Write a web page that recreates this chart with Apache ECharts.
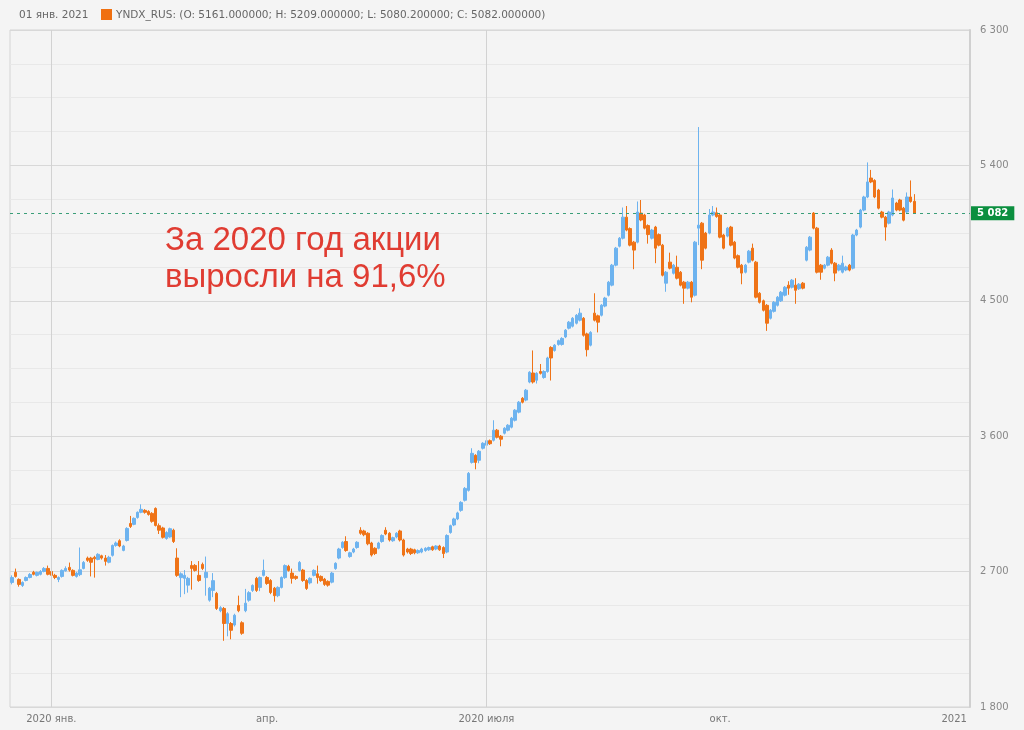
<!DOCTYPE html>
<html>
<head>
<meta charset="utf-8">
<title>YNDX_RUS 2020</title>
<script src="https://cdn.jsdelivr.net/npm/echarts@6/dist/echarts.min.js"></script>
<style>
  html, body { margin: 0; padding: 0; background: #f4f4f4; }
  #chart { width: 1024px; height: 730px; }
</style>
</head>
<body>
<div id="chart"></div>
<script>
// daily candles, [open, close, low, high], one per trading day
const candles = [
  [2628, 2661, 2615, 2675], [2695, 2668, 2660, 2720], [2648, 2615, 2600, 2655], [2608, 2628, 2598, 2635],
  [2641, 2661, 2635, 2668], [2661, 2681, 2655, 2690], [2695, 2682, 2675, 2705], [2675, 2695, 2668, 2700],
  [2682, 2701, 2675, 2710], [2701, 2721, 2695, 2730], [2721, 2682, 2675, 2740], [2701, 2675, 2665, 2710],
  [2675, 2661, 2650, 2685], [2648, 2661, 2630, 2668], [2668, 2708, 2660, 2715], [2705, 2721, 2700, 2735],
  [2728, 2710, 2700, 2760], [2708, 2675, 2668, 2715], [2668, 2690, 2660, 2698], [2680, 2712, 2670, 2860],
  [2721, 2761, 2715, 2770], [2790, 2775, 2765, 2800], [2790, 2762, 2668, 2798], [2795, 2785, 2660, 2805],
  [2781, 2815, 2775, 2822], [2805, 2790, 2780, 2812], [2790, 2768, 2740, 2810], [2762, 2795, 2755, 2805],
  [2808, 2874, 2800, 2880], [2874, 2890, 2865, 2900], [2905, 2870, 2862, 2915], [2841, 2870, 2835, 2878],
  [2907, 2987, 2900, 2995], [3020, 3000, 2990, 3070], [3014, 3054, 3008, 3060], [3060, 3094, 3052, 3100],
  [3094, 3114, 3088, 3147], [3107, 3094, 3085, 3115], [3100, 3080, 3072, 3108], [3087, 3034, 3025, 3095],
  [3120, 3007, 3000, 3127], [3005, 2975, 2950, 3020], [2990, 2928, 2920, 2998], [2920, 2960, 2912, 2968],
  [2930, 2985, 2925, 2992], [2975, 2900, 2890, 2985], [2790, 2675, 2665, 2855], [2660, 2685, 2530, 2695],
  [2655, 2675, 2550, 2710], [2610, 2655, 2560, 2665], [2741, 2721, 2580, 2770], [2741, 2708, 2700, 2750],
  [2675, 2641, 2632, 2770], [2748, 2721, 2710, 2760], [2660, 2695, 2540, 2800], [2510, 2590, 2500, 2598],
  [2575, 2640, 2530, 2690], [2555, 2455, 2445, 2565], [2440, 2460, 2430, 2470], [2455, 2355, 2240, 2465],
  [2355, 2420, 2270, 2430], [2355, 2310, 2250, 2365], [2345, 2410, 2335, 2420], [2475, 2440, 2430, 2540],
  [2360, 2290, 2280, 2370], [2440, 2490, 2430, 2585], [2510, 2560, 2500, 2570], [2575, 2608, 2565, 2615],
  [2655, 2575, 2565, 2665], [2595, 2661, 2570, 2668], [2675, 2708, 2668, 2780], [2661, 2621, 2612, 2670],
  [2641, 2561, 2550, 2650], [2590, 2540, 2500, 2598], [2540, 2595, 2530, 2602], [2595, 2661, 2588, 2668],
  [2660, 2740, 2652, 2748], [2735, 2708, 2700, 2745], [2690, 2655, 2620, 2720], [2668, 2655, 2645, 2675],
  [2708, 2761, 2700, 2770], [2710, 2641, 2632, 2718], [2641, 2588, 2578, 2650], [2625, 2655, 2615, 2662],
  [2675, 2708, 2668, 2715], [2685, 2660, 2620, 2740], [2668, 2640, 2632, 2675], [2650, 2615, 2605, 2658],
  [2635, 2610, 2600, 2642], [2630, 2690, 2622, 2698], [2720, 2755, 2712, 2762], [2790, 2850, 2782, 2858],
  [2860, 2895, 2852, 2902], [2900, 2840, 2832, 2935], [2800, 2825, 2792, 2832], [2830, 2850, 2822, 2858],
  [2860, 2895, 2852, 2902], [2975, 2955, 2945, 2995], [2970, 2945, 2935, 2978], [2955, 2885, 2875, 2962],
  [2890, 2810, 2800, 2898], [2855, 2820, 2810, 2862], [2855, 2890, 2848, 2898], [2900, 2940, 2892, 2948],
  [2975, 2950, 2942, 2995], [2955, 2910, 2900, 2962], [2905, 2925, 2898, 2932], [2930, 2955, 2922, 2962],
  [2970, 2910, 2900, 2978], [2910, 2810, 2800, 2918], [2850, 2830, 2820, 2858], [2850, 2820, 2810, 2858],
  [2845, 2825, 2815, 2852], [2825, 2840, 2818, 2848], [2830, 2850, 2822, 2858], [2840, 2855, 2832, 2862],
  [2845, 2860, 2838, 2866], [2865, 2845, 2838, 2872], [2850, 2870, 2842, 2876], [2870, 2845, 2838, 2878],
  [2860, 2820, 2790, 2868], [2830, 2940, 2822, 2948], [2960, 3005, 2952, 3012], [3010, 3050, 3002, 3058],
  [3050, 3090, 3042, 3098], [3107, 3160, 3098, 3168], [3174, 3253, 3166, 3262], [3240, 3353, 3232, 3362],
  [3426, 3486, 3418, 3520], [3473, 3426, 3380, 3480], [3440, 3500, 3420, 3508], [3520, 3553, 3512, 3560],
  [3540, 3570, 3532, 3578], [3570, 3550, 3542, 3578], [3573, 3640, 3565, 3706], [3640, 3593, 3585, 3648],
  [3600, 3580, 3533, 3608], [3620, 3653, 3612, 3660], [3640, 3673, 3632, 3680], [3660, 3720, 3652, 3728],
  [3706, 3773, 3698, 3780], [3760, 3826, 3752, 3834], [3852, 3826, 3818, 3860], [3840, 3906, 3832, 3914],
  [3960, 4025, 3952, 4032], [4020, 3960, 3950, 4170], [3972, 4018, 3950, 4025], [4030, 4018, 4010, 4080],
  [3990, 4030, 3982, 4038], [4030, 4120, 4022, 4128], [4190, 4120, 3970, 4198], [4170, 4205, 4162, 4212],
  [4210, 4235, 4202, 4242], [4210, 4250, 4202, 4258], [4260, 4305, 4252, 4312], [4318, 4358, 4310, 4366],
  [4331, 4384, 4323, 4392], [4351, 4404, 4343, 4412], [4371, 4418, 4363, 4450], [4384, 4271, 4262, 4392],
  [4280, 4175, 4130, 4288], [4205, 4290, 4197, 4298], [4418, 4371, 4363, 4550], [4400, 4358, 4290, 4408],
  [4404, 4471, 4396, 4478], [4465, 4518, 4457, 4526], [4537, 4624, 4529, 4632], [4604, 4737, 4596, 4745],
  [4737, 4850, 4729, 4858], [4863, 4916, 4855, 4924], [4916, 5056, 4908, 5120], [5056, 4970, 4962, 5130],
  [4980, 4870, 4862, 4988], [4890, 4837, 4710, 4898], [4890, 5090, 4882, 5160], [5083, 5037, 5029, 5170],
  [5070, 4983, 4975, 5078], [5000, 4940, 4880, 5008], [4916, 4970, 4908, 4978], [4990, 4850, 4750, 4998],
  [4940, 4870, 4862, 4948], [4870, 4670, 4662, 4878], [4617, 4690, 4560, 4698], [4757, 4717, 4709, 4820],
  [4683, 4737, 4675, 4745], [4723, 4650, 4642, 4800], [4690, 4604, 4596, 4698], [4624, 4584, 4480, 4632],
  [4584, 4624, 4576, 4632], [4624, 4524, 4490, 4632], [4537, 4890, 4529, 4898], [4983, 5003, 4870, 5655],
  [5016, 4770, 4710, 5024], [4950, 4850, 4842, 4958], [4950, 5070, 4942, 5110], [5070, 5090, 5062, 5130],
  [5085, 5060, 5052, 5120], [5070, 4923, 4915, 5078], [4937, 4850, 4842, 4945], [4930, 4983, 4922, 4991],
  [4990, 4870, 4862, 4998], [4890, 4784, 4776, 4898], [4800, 4723, 4715, 4808], [4737, 4684, 4610, 4745],
  [4690, 4737, 4682, 4745], [4757, 4830, 4749, 4838], [4850, 4770, 4762, 4880], [4757, 4524, 4516, 4765],
  [4550, 4490, 4482, 4558], [4500, 4437, 4429, 4508], [4470, 4351, 4300, 4478], [4384, 4437, 4376, 4445],
  [4430, 4490, 4422, 4498], [4470, 4524, 4462, 4532], [4500, 4557, 4492, 4565], [4537, 4590, 4529, 4598],
  [4604, 4584, 4540, 4630], [4590, 4637, 4582, 4645], [4604, 4570, 4480, 4650], [4580, 4610, 4572, 4618],
  [4617, 4584, 4576, 4625], [4770, 4856, 4762, 4864], [4837, 4923, 4829, 4931], [5083, 4983, 4975, 5090],
  [4983, 4690, 4682, 4991], [4737, 4690, 4640, 4745], [4717, 4737, 4709, 4745], [4737, 4790, 4729, 4798],
  [4837, 4750, 4742, 4850], [4750, 4684, 4630, 4758], [4704, 4737, 4696, 4745], [4690, 4750, 4682, 4800],
  [4705, 4725, 4697, 4733], [4737, 4704, 4696, 4745], [4717, 4937, 4709, 4945], [4937, 4970, 4929, 4978],
  [4990, 5103, 4982, 5111], [5103, 5190, 5095, 5198], [5190, 5290, 5182, 5420], [5316, 5290, 5282, 5370],
  [5300, 5190, 5182, 5308], [5236, 5116, 5108, 5244], [5090, 5056, 5048, 5098], [5056, 4990, 4900, 5064],
  [5016, 5090, 5008, 5098], [5070, 5183, 5062, 5240], [5150, 5103, 5095, 5158], [5170, 5103, 5095, 5178],
  [5116, 5036, 5028, 5124], [5090, 5190, 5082, 5220], [5190, 5160, 5152, 5300], [5161, 5082, 5080, 5209]
];

// x axis: trading-day slots, empty tail up to the 2021 line
const slotCount = 267;
const tickIndex = [11, 71, 132, 197, 266];
const tickText = ['2020 янв.', 'апр.', '2020 июля', 'окт.', '2021'];
const gridIndex = ['11', '132'];

const yMin = 1800;
const yMax = 6300;
const yMajor = 900;
const yMinor = 225;

const lastPrice = 5082;
const headerDate = '01 янв. 2021';
const headerQuote = 'YNDX_RUS: (O: 5161.000000; H: 5209.000000; L: 5080.200000; C: 5082.000000)';
const noteLines = ['За 2020 год акции', 'выросли на 91,6%'];

const upColor = '#6db3ef';
const downColor = '#ef7317';
const font = 'DejaVu Sans';

const slots = Array.from({ length: slotCount }, (_, i) => String(i));
const fmt = (v) => String(v).replace(/\B(?=(\d{3})+(?!\d))/g, ' ');

const chart = echarts.init(document.getElementById('chart'));
chart.setOption({
  animation: false,
  backgroundColor: '#f4f4f4',
  grid: {
    left: 10, right: 54, top: 30, bottom: 23,
    show: true, borderColor: '#d4d4d4', borderWidth: 1
  },
  xAxis: {
    type: 'category',
    data: slots,
    boundaryGap: true,
    axisLine: { show: false },
    axisTick: { show: false },
    splitLine: { show: false },
    axisLabel: {
      interval: (i) => tickIndex.includes(i),
      formatter: (v) => {
        const k = tickIndex.indexOf(Number(v));
        if (k < 0) return '';
        return k === tickIndex.length - 1 ? '{r|' + tickText[k] + '}' : tickText[k];
      },
      color: '#777',
      fontSize: 10,
      fontFamily: font,
      margin: 7,
      rich: { r: { padding: [0, 28, 0, 0], color: '#777', fontSize: 10, fontFamily: font } }
    }
  },
  yAxis: {
    type: 'value',
    position: 'right',
    min: yMin,
    max: yMax,
    interval: yMinor,
    axisLine: { show: true, lineStyle: { color: '#d0d0d0', width: 2 } },
    axisTick: { show: false },
    axisLabel: {
      formatter: (v) => ((v - yMin) % yMajor === 0 ? fmt(v) : ''),
      color: '#888',
      fontSize: 10,
      fontFamily: font,
      margin: 10
    },
    splitLine: {
      show: true,
      lineStyle: { color: ['#d8d8d8', '#e8e8e8', '#e8e8e8', '#e8e8e8'], width: 1 }
    }
  },
  series: [
    {
      // holder for the background reference lines
      type: 'line',
      data: [],
      z: 1,
      markLine: {
        silent: true,
        symbol: ['none', 'none'],
        animation: false,
        data: [
          ...gridIndex.map((x) => ({
            xAxis: x,
            lineStyle: { color: '#d2d2d2', type: 'solid', width: 1 },
            label: { show: false }
          })),
          {
            yAxis: lastPrice,
            lineStyle: { color: '#3a9e78', type: [3, 4], width: 1 },
            label: {
              show: true,
              position: 'end',
              distance: 1,
              formatter: fmt(lastPrice),
              backgroundColor: '#0b8f3f',
              color: '#fff',
              fontSize: 10,
              fontWeight: 'bold',
              fontFamily: font,
              padding: [2, 6, 2, 6]
            }
          }
        ]
      }
    },
    {
      type: 'candlestick',
      data: candles,
      z: 3,
      barWidth: 3,
      itemStyle: {
        color: upColor,
        color0: downColor,
        borderColor: upColor,
        borderColor0: downColor,
        borderWidth: 1
      }
    }
  ],
  graphic: [
    {
      type: 'text', x: 19, y: 15,
      style: { text: headerDate, fill: '#666', font: '10.5px "DejaVu Sans"', verticalAlign: 'middle' }
    },
    {
      type: 'rect', shape: { x: 101, y: 9, width: 11, height: 11 },
      style: { fill: '#f07010' }
    },
    {
      type: 'text', x: 116, y: 15,
      style: { text: headerQuote, fill: '#666', font: '10.5px "DejaVu Sans"', verticalAlign: 'middle' }
    },
    {
      type: 'text', x: 165, y: 241, z: 10,
      style: { text: noteLines[0], fill: '#e03c32', font: '33px "Liberation Sans"', verticalAlign: 'middle' }
    },
    {
      type: 'text', x: 165, y: 278, z: 10,
      style: { text: noteLines[1], fill: '#e03c32', font: '33px "Liberation Sans"', verticalAlign: 'middle' }
    }
  ]
});
</script>
</body>
</html>
